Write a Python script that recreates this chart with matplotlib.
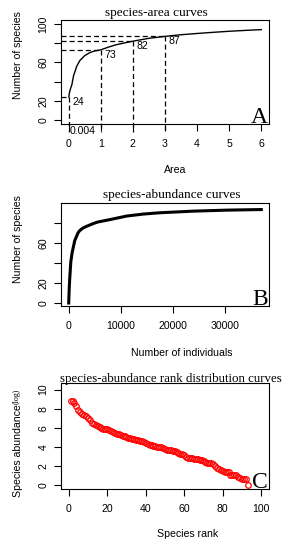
import matplotlib
matplotlib.use('Agg')
import matplotlib.pyplot as plt

# panel A: species-area curve
area = [0.004, 0.02, 0.05, 0.1, 0.15, 0.25, 0.35, 0.5, 0.65, 0.8, 1, 1.25, 1.5,
        2, 2.5, 3, 3.5, 4, 4.5, 5, 5.5, 6]
area_species = [24, 28, 32, 37, 46, 56, 62, 67, 70, 71.8, 73, 76, 78.5,
                82, 85, 87, 88.7, 90, 91.2, 92.3, 93.2, 94]
marked_area = [0.004, 1, 2, 3]
marked_species = [24, 73, 82, 87]

# panel B: species-abundance curve
n_indiv = [0, 50, 100, 200, 400, 650, 1150, 1800, 2100, 2700, 3500, 4700, 5500,
           7900, 11100, 14300, 17500, 23900, 30300, 36900]
n_species = [0, 8, 15, 25, 41, 50, 62, 70, 72, 74.5, 76.5, 79, 80.5,
             83, 86.5, 88.5, 89.8, 91.4, 92.4, 93]

# panel C: rank abundance (log)
log_abund = [8.85, 8.8, 8.6, 8.3, 7.9, 7.7, 7.5, 7.3, 7.2, 7.0,
             6.8, 6.5, 6.4, 6.3, 6.2, 6.1, 6.0, 5.9, 5.9, 5.85,
             5.8, 5.7, 5.6, 5.5, 5.4, 5.35, 5.3, 5.2, 5.1, 5.0,
             4.95, 4.9, 4.85, 4.8, 4.75, 4.7, 4.65, 4.6, 4.5, 4.4,
             4.3, 4.25, 4.2, 4.15, 4.1, 4.05, 4.0, 3.95, 3.9, 3.75,
             3.7, 3.65, 3.65, 3.6, 3.55, 3.45, 3.4, 3.3, 3.25, 3.2,
             3.0, 2.85, 2.8, 2.8, 2.75, 2.75, 2.7, 2.65, 2.6, 2.5,
             2.4, 2.35, 2.3, 2.3, 2.2, 2.0, 1.85, 1.7, 1.55, 1.45,
             1.4, 1.39, 1.39, 1.1, 1.1, 1.1, 1.1, 0.9, 0.75, 0.69,
             0.69, 0.69, 0.0]
ranks = list(range(1, len(log_abund) + 1))

W, H = 284, 550
SANS = 'Liberation Sans'
SERIF = 'Liberation Serif'
FS = 7.6

def box(l, t, r, b):
    return [l / W, 1 - b / H, (r - l) / W, (b - t) / H]

def ftext(x, y, s, **kw):
    return fig.text(x / W, 1 - y / H, s, ha='center', va='center', **kw)

def style(ax, xt, yt, ytl):
    ax.set_xticks(xt)
    ax.set_xticklabels([str(v) for v in xt])
    ax.set_yticks(yt)
    ax.set_yticklabels(ytl)
    for s in ax.spines.values():
        s.set_linewidth(0.8)
    ax.tick_params(direction='out', length=5, width=0.8, labelsize=FS)
    ax.tick_params(axis='x', pad=5.5)
    ax.tick_params(axis='y', pad=4)
    for l in ax.get_xticklabels() + ax.get_yticklabels():
        l.set_fontfamily(SANS)
    for l in ax.get_yticklabels():
        l.set_rotation(90)
        l.set_va('center')

fig = plt.figure(figsize=(W / 100, H / 100), dpi=100)

# ---- A
ax = fig.add_axes(box(61, 20, 269, 124))
ax.plot(area, area_species, color='black', lw=1.0)
ax.set_xlim(-0.24, 6.24)
ax.set_ylim(-4, 104)
for a, s in zip(marked_area, marked_species):
    ax.plot([-0.24, a], [s, s], color='black', lw=0.9, ls=(0, (4, 2.5)))
    ax.plot([a, a], [s, -12], color='black', lw=0.9, ls=(0, (4, 2.5)), clip_on=False)
    ax.annotate(str(s), (a, s), xytext=(2.5, 0), textcoords='offset points',
                ha='left', va='top', fontsize=FS, family=SANS)
ax.annotate('0.004', (0.004, -4), xytext=(0.5, -1.5), textcoords='offset points',
            ha='left', va='top', fontsize=FS, family=SANS, annotation_clip=False)
style(ax, [0, 1, 2, 3, 4, 5, 6], [0, 20, 40, 60, 80, 100], ['0', '20', '', '60', '', '100'])
ax.text(0.995, 0.01, 'A', transform=ax.transAxes, ha='right', va='baseline',
        fontsize=17, family=SERIF)
ftext(156, 13, 'species-area curves', fontsize=9.5, family=SERIF)
ftext(175, 170, 'Area', fontsize=FS, family=SANS)
ftext(18, 55, 'Number of species', fontsize=FS, family=SANS, rotation=90)

# ---- B
ax = fig.add_axes(box(61, 203, 269, 306))
ax.plot(n_indiv, n_species, color='black', lw=2.2)
ax.set_xlim(-1480, 38380)
ax.set_ylim(-3, 99.5)
style(ax, [0, 10000, 20000, 30000], [0, 20, 40, 60, 80], ['0', '20', '', '60', ''])
ax.text(0.995, 0.01, 'B', transform=ax.transAxes, ha='right', va='baseline',
        fontsize=17, family=SERIF)
ftext(171.7, 195, 'species-abundance curves', fontsize=9.5, family=SERIF)
ftext(181.5, 352.7, 'Number of individuals', fontsize=FS, family=SANS)
ftext(18, 238.6, 'Number of species', fontsize=FS, family=SANS, rotation=90)

# ---- C
ax = fig.add_axes(box(61, 383, 269, 489))
ax.plot(ranks, log_abund, ls='none', marker='o', ms=4, mfc='none', mec='red', mew=0.9)
ax.set_xlim(-4, 104)
ax.set_ylim(-0.4, 10.7)
style(ax, [0, 20, 40, 60, 80, 100], [0, 2, 4, 6, 8, 10], ['0', '2', '4', '6', '8', '10'])
ax.text(0.995, 0.01, 'C', transform=ax.transAxes, ha='right', va='baseline',
        fontsize=17, family=SERIF)
ftext(170.5, 379, 'species-abundance rank distribution curves', fontsize=9.3, family=SERIF)
ftext(188, 534, 'Species rank', fontsize=FS, family=SANS)
t = fig.text(18 / W, 1 - 497 / H, 'Species abundance', rotation=90, ha='center', va='bottom',
             fontsize=FS, family=SANS)
lg = fig.text(0, 0, '(log)', rotation=90, ha='center', va='bottom', fontsize=5.8, family=SERIF)
# place (log) right after the main label
fig.canvas.draw()
bb = t.get_window_extent()
lg.set_position(((bb.x0 + bb.width * 0.35) / W, (bb.y1 + 0.5) / H))

fig.savefig('out.png', dpi=100)
